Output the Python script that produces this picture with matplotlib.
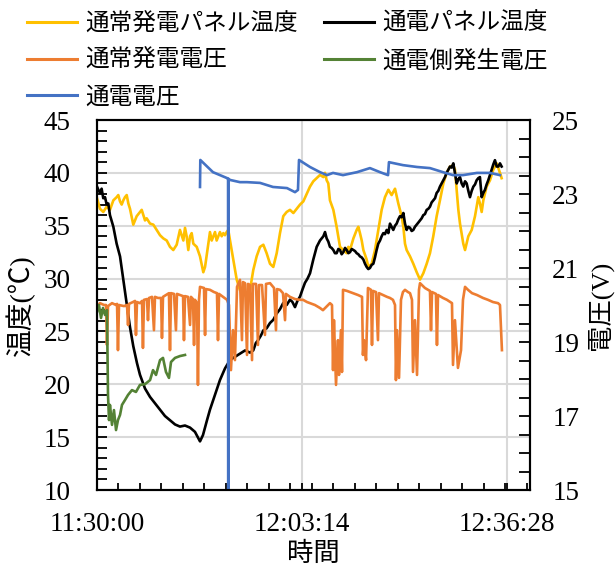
import matplotlib
matplotlib.use("Agg")
import matplotlib.pyplot as plt
from matplotlib.ticker import MultipleLocator, FixedLocator, FuncFormatter
from matplotlib.lines import Line2D

plt.rcParams['font.family'] = ['Liberation Serif', 'Noto Sans CJK JP']
plt.rcParams['axes.unicode_minus'] = False

# elapsed seconds from 11:30:00
START_SEC = 11 * 3600 + 30 * 60

# 通常発電パネル温度 (°C)
normal_temp_t = [0, 29, 61, 94, 126, 159, 191, 207, 224, 240, 256, 272, 289, 305, 321,
                 353, 386, 418, 435, 451, 467, 483, 516, 548, 581, 613, 645, 678, 710,
                 742, 775, 807, 840, 856, 872, 888, 905, 921, 937, 970, 1002, 1034, 1051,
                 1083, 1099, 1116, 1132, 1148, 1164, 1180, 1196, 1213, 1229, 1245, 1261,
                 1277, 1294, 1326, 1359, 1391, 1423, 1456, 1488, 1520, 1553, 1586, 1618,
                 1650, 1683, 1715, 1748, 1780, 1812, 1845, 1877, 1910, 1942, 1975, 2007,
                 2040, 2072, 2104, 2137, 2169, 2202, 2218, 2234, 2250, 2266, 2299, 2331,
                 2364, 2396, 2429, 2445, 2461, 2494, 2526, 2542, 2558, 2575, 2591, 2623,
                 2639, 2672, 2704, 2736, 2769, 2801, 2834, 2866, 2899, 2931, 2963, 2980,
                 2996, 3012, 3045, 3077, 3110, 3142, 3174, 3207, 3239, 3271, 3304, 3336,
                 3369, 3401, 3434, 3466, 3482, 3499, 3515, 3531, 3563, 3580, 3612, 3645,
                 3677, 3709, 3725, 3742, 3758, 3790, 3823, 3855, 3888, 3920, 3936]
normal_temp = [37.6, 36.6, 36.3, 36.8, 36.5, 37.4, 37.7, 37.9, 37.3, 37.0, 37.4, 37.7, 37.9,
               37.1, 36.6, 35.1, 35.9, 36.3, 36.5, 36.0, 35.5, 35.7, 35.2, 35.1, 34.6, 34.1,
               33.8, 33.6, 33.0, 32.7, 33.2, 34.6, 33.6, 34.8, 34.0, 32.7, 34.0, 34.3, 33.3,
               33.0, 32.1, 30.6, 31.1, 33.3, 34.4, 33.6, 34.0, 34.4, 33.6, 34.0, 34.4, 34.0,
               34.3, 34.1, 34.4, 34.6, 33.6, 31.8, 29.9, 28.9, 29.2, 28.3, 28.9, 30.8, 32.1,
               33.0, 33.2, 32.4, 31.4, 31.1, 32.4, 34.3, 35.9, 36.3, 36.5, 36.2, 36.6, 37.0,
               37.3, 38.0, 38.7, 39.2, 39.5, 39.8, 39.6, 40.0, 39.3, 39.0, 37.4, 36.5, 34.9,
               33.0, 32.7, 32.4, 33.0, 32.7, 33.8, 34.6, 34.9, 34.3, 33.6, 32.7, 31.8, 31.1,
               31.4, 32.7, 34.6, 36.5, 37.7, 38.4, 37.9, 38.5, 37.1, 35.9, 34.9, 33.3, 32.7,
               32.1, 31.4, 30.6, 29.9, 30.5, 31.4, 32.4, 34.0, 35.9, 37.4, 39.0, 40.0, 40.6,
               40.7, 40.3, 38.4, 36.5, 35.2, 33.3, 32.7, 34.0, 34.6, 35.9, 37.7, 37.1, 36.3,
               37.4, 38.7, 39.3, 40.3, 40.9, 40.0, 39.5]

# 通電パネル温度 (°C)
peltier_temp_t = [0, 13, 29, 45, 61, 78, 94, 110, 126, 159, 191, 224, 256, 289, 321, 353,
                  389, 418, 467, 516, 564, 613, 661, 710, 759, 807, 856, 905, 953, 1002,
                  1031, 1070, 1099, 1148, 1196, 1245, 1294, 1342, 1391, 1440, 1488, 1520,
                  1545, 1569, 1594, 1618, 1650, 1683, 1715, 1748, 1780, 1812, 1845, 1877,
                  1900, 1926, 1950, 1975, 2000, 2023, 2048, 2072, 2104, 2137, 2169, 2202,
                  2218, 2234, 2250, 2266, 2282, 2299, 2315, 2331, 2348, 2364, 2380, 2396,
                  2413, 2429, 2445, 2461, 2478, 2494, 2510, 2526, 2542, 2558, 2575, 2591,
                  2607, 2623, 2639, 2655, 2672, 2688, 2704, 2720, 2736, 2753, 2769, 2785,
                  2801, 2818, 2834, 2850, 2866, 2882, 2899, 2915, 2931, 2947, 2963, 2980,
                  2996, 3012, 3028, 3045, 3061, 3077, 3093, 3110, 3126, 3142, 3158, 3174,
                  3190, 3207, 3223, 3239, 3255, 3271, 3288, 3304, 3320, 3336, 3352, 3369,
                  3385, 3401, 3417, 3434, 3450, 3466, 3482, 3499, 3515, 3531, 3547, 3563,
                  3580, 3596, 3612, 3628, 3645, 3661, 3677, 3693, 3709, 3725, 3742, 3758,
                  3774, 3790, 3806, 3823, 3839, 3855, 3871, 3888, 3904, 3920, 3936]
peltier_temp = [38.7, 38.4, 38.1, 38.5, 37.6, 37.7, 37.0, 37.1, 36.0, 34.9, 33.3, 32.1,
                29.9, 27.7, 25.4, 23.6, 22.0, 20.9, 19.6, 18.8, 18.2, 17.6, 17.0, 16.6,
                16.2, 16.0, 16.1, 15.9, 15.5, 14.6, 15.2, 16.6, 17.6, 19.0, 20.4, 21.5,
                22.3, 22.6, 22.9, 23.2, 23.0, 23.2, 23.9, 24.2, 24.6, 25.1, 25.3, 25.8,
                26.1, 26.7, 27.1, 27.7, 27.5, 28.0, 27.8, 27.3, 27.9, 28.3, 29.0, 29.6,
                30.0, 30.5, 31.8, 33.0, 33.6, 34.0, 34.4, 33.8, 33.5, 33.0, 32.9, 32.7,
                32.4, 32.4, 32.8, 32.7, 32.3, 32.5, 32.9, 32.7, 32.4, 32.5, 32.8, 32.7,
                32.6, 32.4, 32.3, 32.1, 32.0, 31.8, 31.4, 31.1, 30.9, 31.0, 31.3, 31.4,
                32.0, 32.7, 33.3, 33.6, 34.0, 34.3, 34.2, 34.6, 34.3, 35.2, 34.9, 34.6,
                35.0, 35.2, 35.6, 35.9, 35.8, 36.2, 35.2, 34.6, 34.9, 34.8, 34.5, 34.6,
                34.9, 35.1, 35.3, 35.5, 35.7, 36.0, 36.1, 36.5, 36.6, 36.8, 37.2, 37.4,
                37.6, 38.1, 38.3, 38.7, 39.0, 39.3, 39.6, 40.0, 40.3, 40.6, 40.5, 40.9,
                40.0, 39.0, 39.4, 39.6, 39.0, 38.7, 39.2, 39.0, 38.3, 37.7, 38.3, 38.7,
                38.9, 39.3, 39.5, 39.6, 37.7, 38.1, 38.4, 38.9, 39.3, 39.8, 40.3, 40.8,
                41.2, 40.6, 40.6, 40.9, 40.6]

# 通常発電電圧 (V)
normal_volt_t = [0, 29, 68, 88, 97, 107, 146, 185, 195, 204, 214, 263, 292, 302, 311, 350,
                 370, 379, 389, 418, 438, 447, 457, 486, 496, 506, 535, 554, 564, 593, 623,
                 632, 642, 671, 700, 710, 720, 749, 768, 778, 807, 837, 846, 856, 885, 905,
                 914, 934, 944, 953, 973, 982, 992, 1002, 1041, 1051, 1060, 1099, 1138,
                 1167, 1177, 1187, 1226, 1265, 1284, 1303, 1323, 1342, 1362, 1391, 1410,
                 1420, 1440, 1459, 1469, 1488, 1508, 1517, 1547, 1566, 1576, 1605, 1634,
                 1644, 1683, 1722, 1741, 1751, 1780, 1809, 1829, 1838, 1877, 1926, 1975,
                 2004, 2043, 2072, 2120, 2169, 2198, 2237, 2266, 2286, 2296, 2305, 2325,
                 2344, 2354, 2373, 2383, 2393, 2432, 2461, 2510, 2539, 2578, 2587, 2597,
                 2617, 2636, 2665, 2675, 2685, 2714, 2733, 2743, 2782, 2821, 2850, 2879,
                 2899, 2908, 2918, 2938, 2957, 2976, 2996, 3025, 3045, 3064, 3074, 3093,
                 3113, 3132, 3142, 3190, 3239, 3249, 3259, 3297, 3307, 3317, 3366, 3404,
                 3453, 3463, 3482, 3511, 3541, 3560, 3580, 3609, 3648, 3696, 3755, 3803,
                 3852, 3901, 3920, 3939]
normal_volt = [19.95, 20.05, 20.00, 20.00, 18.92, 19.97, 20.05, 20.00, 20.03, 18.78, 20.00,
               19.97, 20.00, 19.46, 20.03, 20.08, 20.11, 19.19, 20.08, 20.05, 20.11, 18.84,
               20.14, 20.16, 19.59, 20.19, 20.22, 19.32, 20.22, 20.19, 20.19, 19.11, 20.22,
               20.27, 20.32, 18.78, 20.32, 20.30, 19.32, 20.30, 20.27, 20.24, 19.05, 20.24,
               20.22, 19.46, 20.22, 20.16, 18.92, 20.14, 20.05, 17.84, 20.14, 20.49, 20.46,
               19.19, 20.43, 20.41, 20.35, 20.32, 19.05, 20.30, 20.22, 20.14, 20.00, 18.24,
               19.32, 18.51, 20.49, 20.68, 19.05, 20.62, 20.59, 18.65, 20.57, 20.54, 18.51,
               20.57, 20.57, 18.92, 20.54, 20.54, 19.19, 20.57, 20.59, 20.46, 19.32, 20.43,
               20.41, 20.32, 19.59, 20.30, 20.22, 20.16, 20.14, 20.14, 20.08, 20.05, 20.00,
               19.92, 19.86, 19.97, 20.05, 20.00, 18.24, 19.59, 17.84, 19.05, 18.11, 19.32,
               18.19, 20.41, 20.38, 20.35, 20.30, 20.27, 20.22, 18.65, 19.05, 18.51, 20.46,
               20.41, 18.92, 20.38, 20.35, 19.05, 20.32, 20.27, 20.22, 20.19, 20.14, 20.00,
               17.97, 19.32, 18.03, 20.14, 20.35, 20.41, 20.35, 20.32, 20.14, 18.19, 19.59,
               18.11, 20.41, 20.59, 20.46, 20.38, 19.32, 20.35, 20.30, 18.92, 20.27, 20.19,
               20.14, 20.05, 18.38, 19.59, 18.30, 18.78, 20.14, 20.49, 20.41, 20.32, 20.27,
               20.19, 20.14, 20.08, 20.05, 20.00, 18.78]

# 通電側発生電圧 (V)
peltier_gen_t = [0, 19, 39, 58, 78, 97, 107, 117, 126, 146, 165, 185, 204, 224, 243, 272,
                 302, 340, 379, 418, 467, 516, 545, 574, 613, 642, 671, 700, 720, 759, 807,
                 856]
peltier_gen = [19.81, 20.00, 19.65, 19.92, 19.73, 19.86, 17.57, 16.89, 17.30, 16.76, 17.16,
               16.62, 16.89, 17.03, 17.30, 17.43, 17.57, 17.70, 17.65, 17.84, 17.86, 17.97,
               18.24, 18.11, 18.51, 18.57, 18.19, 18.03, 18.46, 18.57, 18.62, 18.65]

# 通電電圧 (V)
peltier_volt_t = [1002, 1005, 1128, 1265, 1275, 1278, 1281, 1294, 1391, 1459, 1586, 1712,
                  1848, 1926, 1955, 1965, 2072, 2169, 2237, 2296, 2393, 2529, 2655, 2753,
                  2831, 2840, 2977, 3113, 3239, 3366, 3463, 3560, 3696, 3823, 3920]
peltier_volt = [23.19, 23.92, 23.59, 23.43, 23.41, 0.0, 23.41, 23.38, 23.32, 23.32, 23.30,
                23.19, 23.16, 23.05, 23.11, 23.92, 23.73, 23.59, 23.51, 23.57, 23.51, 23.59,
                23.70, 23.59, 23.51, 23.86, 23.78, 23.73, 23.70, 23.59, 23.51, 23.51, 23.57,
                23.57, 23.51]

time_ticks = [0, 1994, 3988]
x_end = 4212

YELLOW = '#FFC000'
BLACK = '#000000'
ORANGE = '#ED7D31'
GREEN = '#548235'
BLUE = '#4472C4'
LW = 1.9

fig = plt.figure(figsize=(6.16, 5.66), dpi=100)
ax = fig.add_axes([97 / 616, 1 - 490 / 566, 433 / 616, 370 / 566])
ax2 = ax.twinx()

ax.plot(normal_temp_t, normal_temp, color=YELLOW, lw=LW)
ax.plot(peltier_temp_t, peltier_temp, color=BLACK, lw=LW)
ax2.plot(normal_volt_t, normal_volt, color=ORANGE, lw=LW)
ax2.plot(peltier_gen_t, peltier_gen, color=GREEN, lw=LW)
ax2.plot(peltier_volt_t, peltier_volt, color=BLUE, lw=LW)

ax.set_xlim(0, x_end)
ax.set_ylim(10, 45)
ax2.set_ylim(15, 25)

def fmt_time(v, pos=None):
    s = START_SEC + int(round(v))
    return f"{s // 3600}:{(s % 3600) // 60:02d}:{s % 60:02d}"

ax.xaxis.set_major_locator(FixedLocator(time_ticks))
ax.xaxis.set_major_formatter(FuncFormatter(fmt_time))
ax.xaxis.set_minor_locator(MultipleLocator(209))
ax.yaxis.set_major_locator(MultipleLocator(5))
ax.yaxis.set_minor_locator(MultipleLocator(1))
ax2.yaxis.set_minor_locator(MultipleLocator(0.5))
ax2.set_yticks([15, 17, 19, 21, 23, 25])

ax.grid(True, which='major', color='#d9d9d9', lw=1.5)
ax.set_axisbelow(True)

for a in (ax, ax2):
    for sp in a.spines.values():
        sp.set_linewidth(1.5)
        sp.set_color('black')

tick_fs = 19.5
ax.tick_params(axis='y', which='both', direction='in', width=1.3, labelsize=tick_fs,
               pad=19, length=7)
ax.tick_params(axis='x', which='both', direction='in', width=1.3, labelsize=tick_fs,
               pad=16, length=5)
ax2.tick_params(axis='y', which='both', direction='in', width=1.3, labelsize=tick_fs,
                pad=16, length=8)

ax.set_xlabel('時間', fontsize=19, labelpad=3)
ax.set_ylabel('温度(℃)', fontsize=20, labelpad=6)
ax2.set_ylabel('電圧(V)', fontsize=19, labelpad=5)

handles = [Line2D([], [], color=YELLOW, lw=2.2), Line2D([], [], color=ORANGE, lw=2.2),
           Line2D([], [], color=BLUE, lw=2.2), Line2D([], [], color=BLACK, lw=2.2),
           Line2D([], [], color=GREEN, lw=2.2)]
labels = ['通常発電パネル温度', '通常発電電圧', '通電電圧', '通電パネル温度', '通電側発生電圧']
fig.legend(handles, labels, ncol=2, loc='upper left', bbox_to_anchor=(27 / 616, 1 - 13 / 566),
           frameon=False, fontsize=17, handlelength=2.1, handletextpad=0.38,
           columnspacing=1.1, labelspacing=0.62, borderpad=0, borderaxespad=0)

fig.savefig('out.png', dpi=100)
